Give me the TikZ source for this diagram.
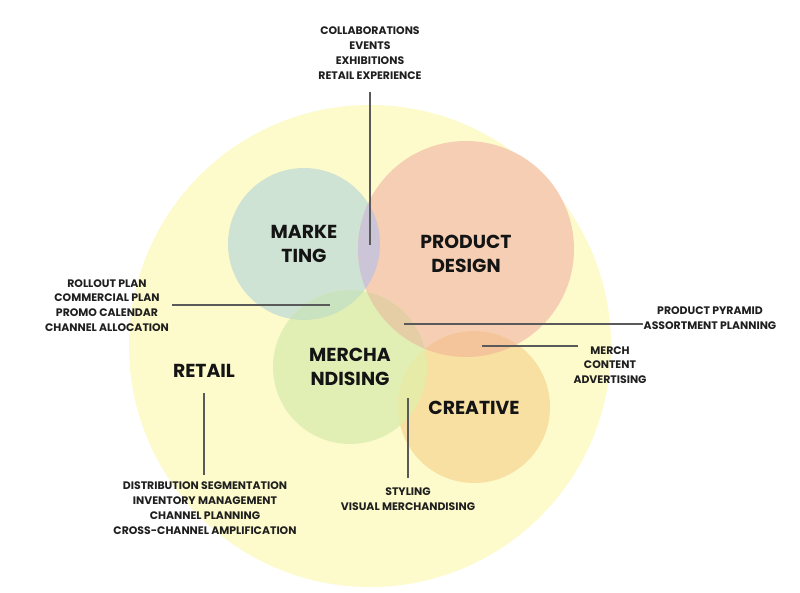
\documentclass[tikz,border=0pt]{standalone}
\usepackage{fontspec}
\setmainfont{Poppins}
\definecolor{bgyellow}{HTML}{FDFBCB}
\definecolor{mkt}{HTML}{CFE3D5}
\definecolor{prd}{HTML}{F6CEB4}
\definecolor{mer}{HTML}{E1EFB4}
\definecolor{cre}{HTML}{F8DFA2}
\definecolor{mktprd}{HTML}{CCC4D7}
\definecolor{mktmer}{HTML}{C9E3C1}
\definecolor{prdmer}{HTML}{E5CEA6}
\definecolor{prdcre}{HTML}{F4C59B}
\definecolor{mercre}{HTML}{E6EBA8}
\definecolor{linegray}{HTML}{5A5A5A}
\tikzset{
  big/.style={font=\fontsize{18.8}{23.5}\selectfont\bfseries, align=center, text=black!92},
  small/.style={font=\fontsize{10.9}{14.8}\selectfont\bfseries, align=center, text=black!88},
  conn/.style={draw=linegray, line width=1.1pt}
}
\begin{document}
\begin{tikzpicture}[x=1pt,y=-1pt]
\useasboundingbox (0,0) rectangle (800,593);
\fill[white] (0,0) rectangle (800,593);
% big yellow circle
\fill[bgyellow] (370,346) circle (241);
% circles
\fill[mkt] (304,244) circle (76);
\fill[prd] (466,249) circle (108);
\fill[mer] (350,367) circle (77);
\fill[cre] (474,407) circle (76);
% overlaps
\begin{scope}
  \clip (304,244) circle (76);
  \fill[mktprd] (466,249) circle (108);
  \fill[mktmer] (350,367) circle (77);
\end{scope}
\begin{scope}
  \clip (466,249) circle (108);
  \fill[prdmer] (350,367) circle (77);
  \fill[prdcre] (474,407) circle (76);
\end{scope}
\begin{scope}
  \clip (350,367) circle (77);
  \fill[mercre] (474,407) circle (76);
\end{scope}
% big labels
\node[big] (marketing) at (304,244) {MARKE\\TING};
\node[big] (product) at (466,254) {PRODUCT\\DESIGN};
\node[big] (merch) at (350,367) {MERCHA\\NDISING};
\node[big] (creative) at (474,408) {CREATIVE};
\node[big] (retail) at (204,371) {RETAIL};
% small labels
\node[small] (collab) at (370,53) {COLLABORATIONS\\EVENTS\\EXHIBITIONS\\RETAIL EXPERIENCE};
\node[small] (rollout) at (107,305.5) {ROLLOUT PLAN\\COMMERCIAL PLAN\\PROMO CALENDAR\\CHANNEL ALLOCATION};
\node[small] (pyramid) at (710,318) {PRODUCT PYRAMID\\ASSORTMENT PLANNING};
\node[small] (content) at (610,365) {MERCH\\CONTENT\\ADVERTISING};
\node[small] (distrib) at (205,508) {DISTRIBUTION SEGMENTATION\\INVENTORY MANAGEMENT\\CHANNEL PLANNING\\CROSS-CHANNEL AMPLIFICATION};
\node[small] (styling) at (408,499.5) {STYLING\\VISUAL MERCHANDISING};
% connector ends
\coordinate (c1) at (370,245);
\coordinate (c2) at (330,305);
\coordinate (c3) at (404,324);
\coordinate (c4) at (482,346);
\coordinate (c5) at (204,393);
\coordinate (c6) at (408,398);
% connectors
\draw[conn] (collab.south |- 0,92) -- (c1);
\draw[conn] (172,305) -- (c2);
\draw[conn] (643,324) -- (c3);
\draw[conn] (578,346) -- (c4);
\draw[conn] (c5) -- (204,475);
\draw[conn] (c6) -- (408,478);
\end{tikzpicture}
\end{document}
